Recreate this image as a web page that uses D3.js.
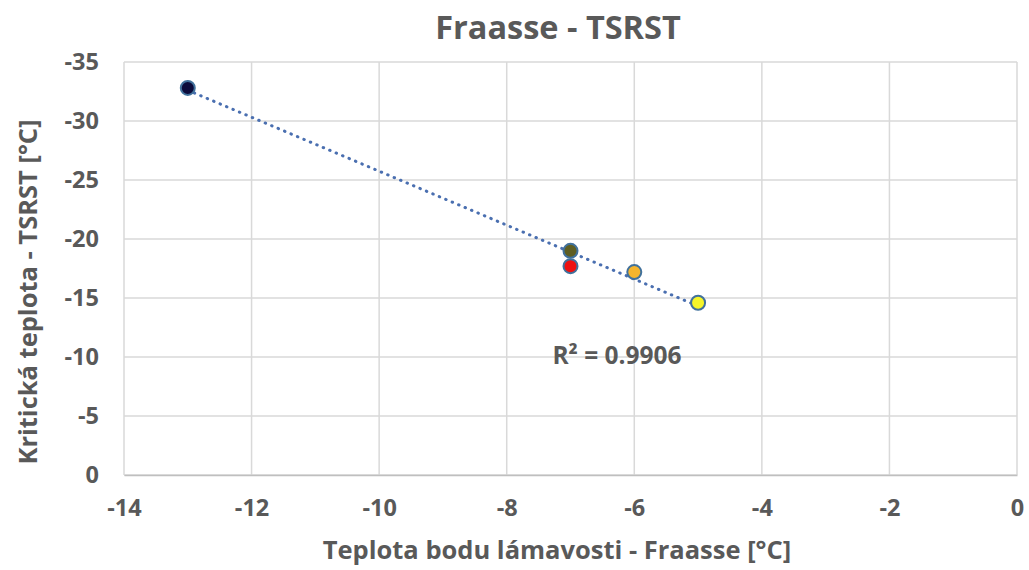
<!DOCTYPE html>
<html><head><meta charset="utf-8">
<script src="https://cdn.jsdelivr.net/npm/d3@7"></script>
<style>body{margin:0;background:#fff}svg{display:block}text{font-family:"Open Sans",Lato,sans-serif;font-weight:bold;fill:#595959}</style>
</head><body>
<script>
const xValues = [-13, -7, -7, -6, -5];
const yValues = [-32.8, -19.0, -17.7, -17.2, -14.6];
const pointColors = ["#0b0b3b", "#5e5e22", "#ee1111", "#f5b52e", "#f5f52a"];
const xTicks = [-14, -12, -10, -8, -6, -4, -2, 0];
const yTicks = [0, -5, -10, -15, -20, -25, -30, -35];
const title = "Fraasse - TSRST";
const xTitle = "Teplota bodu lámavosti - Fraasse [°C]";
const yTitle = "Kritická teplota - TSRST [°C]";
const r2Label = "R² = 0.9906";

const W = 1029, H = 570;
const svg = d3.select("body").append("svg").attr("width", W).attr("height", H);
const x = d3.scaleLinear().domain([-14, 0]).range([124, 1017]);
const y = d3.scaleLinear().domain([0, -35]).range([475, 62]);

// gridlines
svg.append("g").selectAll("line").data(xTicks).join("line")
  .attr("x1", d => x(d)).attr("x2", d => x(d)).attr("y1", y(-35)).attr("y2", y(0))
  .attr("stroke", "#d9d9d9").attr("stroke-width", 1.5);
svg.append("g").selectAll("line").data(yTicks).join("line")
  .attr("x1", x(-14)).attr("x2", x(0)).attr("y1", d => y(d)).attr("y2", d => y(d))
  .attr("stroke", "#d9d9d9").attr("stroke-width", 1.5);

// axes
const xAxis = svg.append("g").attr("transform", `translate(0,${y(0)})`)
  .call(d3.axisBottom(x).tickValues(xTicks).tickSize(0).tickPadding(24).tickFormat(d => d));
xAxis.select(".domain").attr("stroke", "#bfbfbf").attr("stroke-width", 1.5);
xAxis.selectAll("text").style("font-size", "23.5px").attr("fill", "#595959");
const yAxis = svg.append("g").attr("transform", `translate(${x(-14)},0)`)
  .call(d3.axisLeft(y).tickValues(yTicks).tickSize(0).tickPadding(25).tickFormat(d => d));
yAxis.select(".domain").remove();
yAxis.selectAll("text").style("font-size", "23.5px").attr("fill", "#595959");

// trendline (least squares)
const n = xValues.length;
const mx = d3.mean(xValues), my = d3.mean(yValues);
let sxy = 0, sxx = 0;
for (let i = 0; i < n; i++) { sxy += (xValues[i]-mx)*(yValues[i]-my); sxx += (xValues[i]-mx)**2; }
const slope = sxy / sxx, icpt = my - slope * mx;
const x0 = d3.min(xValues), x1 = d3.max(xValues);
svg.append("line")
  .attr("x1", x(x0)).attr("y1", y(icpt + slope*x0))
  .attr("x2", x(x1)).attr("y2", y(icpt + slope*x1))
  .attr("stroke", "#4a6fb0").attr("stroke-width", 3)
  .attr("stroke-dasharray", "0.5,6.5").attr("stroke-linecap", "round");

// points
svg.append("g").selectAll("circle").data(xValues).join("circle")
  .attr("cx", (d, i) => x(d)).attr("cy", (d, i) => y(yValues[i])).attr("r", 7)
  .attr("fill", (d, i) => pointColors[i]).attr("stroke", "#41719c").attr("stroke-width", 2);

// texts
svg.append("text").attr("x", 558).attr("y", 39).attr("text-anchor", "middle").style("font-size", "32.5px").text(title);
svg.append("text").attr("x", 557).attr("y", 559).attr("text-anchor", "middle").style("font-size", "25.5px").text(xTitle);
svg.append("text").attr("transform", "translate(37,292) rotate(-90)").attr("text-anchor", "middle").style("font-size", "25.5px").text(yTitle);
svg.append("text").attr("x", 617).attr("y", 364).attr("text-anchor", "middle").style("font-size", "24.5px").text(r2Label);
</script>
</body></html>
